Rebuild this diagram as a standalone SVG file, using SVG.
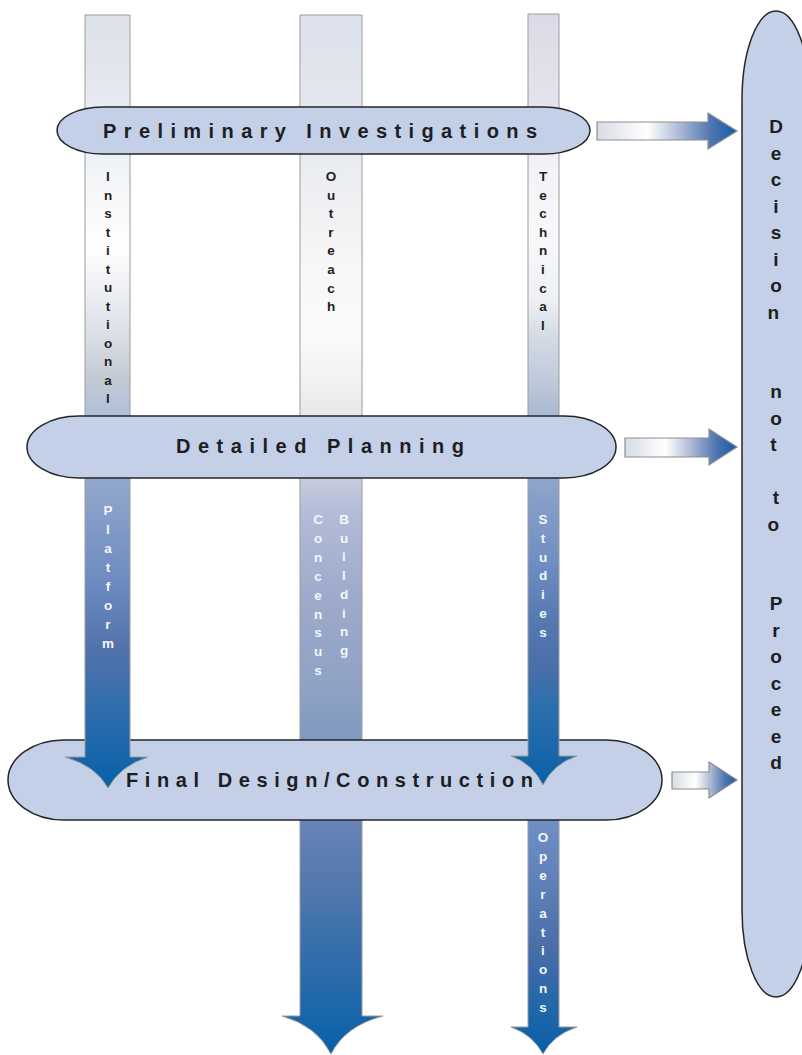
<svg xmlns="http://www.w3.org/2000/svg" width="802" height="1055" viewBox="0 0 802 1055">
<style>
.pill{fill:#c3d0e8;stroke:#262626;stroke-width:1.5}
.col{stroke:#9c9c9c;stroke-width:1}
.rarr{fill:url(#gR);stroke:#8e8e8e;stroke-width:1.2}
.big{font-family:"Liberation Sans",Arial,sans-serif;font-weight:bold;font-size:20px;fill:#1e1e22}
.dec{font-family:"Liberation Sans",Arial,sans-serif;font-weight:bold;font-size:19px;fill:#1e1e22;text-anchor:middle}
.lbl{font-family:"Liberation Sans",Arial,sans-serif;font-weight:bold;font-size:13.5px;text-anchor:middle}
.dk{fill:#1e1e22}
.wt{fill:#f4f6fb}
</style>
<defs>
<linearGradient id="g1" gradientUnits="userSpaceOnUse" x1="0" y1="15" x2="0" y2="788">
<stop offset="0" stop-color="#dde2e8"/>
<stop offset="0.06" stop-color="#e2e6ec"/>
<stop offset="0.18" stop-color="#edf2f8"/>
<stop offset="0.24" stop-color="#f8f8f8"/>
<stop offset="0.30" stop-color="#ffffff"/>
<stop offset="0.36" stop-color="#eceef2"/>
<stop offset="0.42" stop-color="#d8dde4"/>
<stop offset="0.47" stop-color="#c4cad2"/>
<stop offset="0.50" stop-color="#b6c4da"/>
<stop offset="0.60" stop-color="#93a7cc"/>
<stop offset="0.73" stop-color="#6e8cc0"/>
<stop offset="0.82" stop-color="#5272ac"/>
<stop offset="0.90" stop-color="#2f6ead"/>
<stop offset="1" stop-color="#0660a8"/>
</linearGradient>
<linearGradient id="g2" gradientUnits="userSpaceOnUse" x1="0" y1="15" x2="0" y2="1054">
<stop offset="0" stop-color="#dde1eb"/>
<stop offset="0.09" stop-color="#e4e7ef"/>
<stop offset="0.18" stop-color="#eef0f2"/>
<stop offset="0.25" stop-color="#f8f8f8"/>
<stop offset="0.31" stop-color="#fafafa"/>
<stop offset="0.35" stop-color="#f2f2f2"/>
<stop offset="0.39" stop-color="#e6e6e6"/>
<stop offset="0.445" stop-color="#c8cedf"/>
<stop offset="0.48" stop-color="#b2bcd8"/>
<stop offset="0.56" stop-color="#9eaacc"/>
<stop offset="0.65" stop-color="#8ea2c4"/>
<stop offset="0.70" stop-color="#7f98c0"/>
<stop offset="0.78" stop-color="#6682b6"/>
<stop offset="0.84" stop-color="#5278ae"/>
<stop offset="0.89" stop-color="#3a70aa"/>
<stop offset="0.95" stop-color="#1f68aa"/>
<stop offset="1" stop-color="#0660a8"/>
</linearGradient>
<linearGradient id="g3" gradientUnits="userSpaceOnUse" x1="0" y1="14" x2="0" y2="785">
<stop offset="0" stop-color="#dcdae6"/>
<stop offset="0.11" stop-color="#e4e2ec"/>
<stop offset="0.21" stop-color="#f4f4f8"/>
<stop offset="0.29" stop-color="#f8f8fa"/>
<stop offset="0.37" stop-color="#eef0f4"/>
<stop offset="0.42" stop-color="#d4dae4"/>
<stop offset="0.475" stop-color="#bfcadb"/>
<stop offset="0.52" stop-color="#a9bad2"/>
<stop offset="0.60" stop-color="#90a6cc"/>
<stop offset="0.71" stop-color="#6f8ec2"/>
<stop offset="0.79" stop-color="#5478b0"/>
<stop offset="0.85" stop-color="#4a6ea8"/>
<stop offset="0.89" stop-color="#3070ae"/>
<stop offset="0.95" stop-color="#1c68aa"/>
<stop offset="1" stop-color="#0660a8"/>
</linearGradient>
<linearGradient id="g4" gradientUnits="userSpaceOnUse" x1="0" y1="815" x2="0" y2="1054">
<stop offset="0" stop-color="#7090c6"/>
<stop offset="0.3" stop-color="#5e80b8"/>
<stop offset="0.55" stop-color="#4a6ea8"/>
<stop offset="0.75" stop-color="#2a68aa"/>
<stop offset="1" stop-color="#0660a8"/>
</linearGradient>
<linearGradient id="gR" x1="0" y1="0" x2="1" y2="0">
<stop offset="0" stop-color="#d6dce4"/>
<stop offset="0.36" stop-color="#ffffff"/>
<stop offset="0.58" stop-color="#b0bcd6"/>
<stop offset="0.82" stop-color="#4e74b0"/>
<stop offset="1" stop-color="#0c5ea8"/>
</linearGradient>
</defs>

<g id="decision">
<path class="pill" d="M742,100 A34,89 0 0 1 810,100 L810,910 A34,87 0 0 1 742,910 Z"/>
<text class="dec">
<tspan x="776" y="133">D</tspan><tspan x="776" y="159.5">e</tspan><tspan x="776" y="186">c</tspan><tspan x="776" y="212.5">i</tspan><tspan x="776" y="239">s</tspan><tspan x="776" y="265.5">i</tspan><tspan x="776" y="292">o</tspan><tspan x="776" y="318.5">n</tspan>
<tspan x="776" y="398">n</tspan><tspan x="776" y="424.5">o</tspan><tspan x="776" y="451">t</tspan>
<tspan x="776" y="504">t</tspan><tspan x="776" y="530.5">o</tspan>
<tspan x="776" y="610">P</tspan><tspan x="776" y="636.5">r</tspan><tspan x="776" y="663">o</tspan><tspan x="776" y="689.5">c</tspan><tspan x="776" y="716">e</tspan><tspan x="776" y="742.5">e</tspan><tspan x="776" y="769">d</tspan>
</text>
</g>

<g id="connectors">
<path id="outreach" class="col" fill="url(#g2)" d="M300,15 L362,15 L362,1016 L383,1016 Q345,1026 331,1054 Q317,1026 282,1016 L300,1016 Z"/>
<path id="operations" class="col" fill="url(#g4)" d="M528,815 L559,815 L559,1027 L577,1027 Q553,1035 543,1054 Q533,1035 511,1027 L528,1027 Z"/>
<path class="rarr" d="M597,122 L708,122 L708,113 L737,131 L708,149 L708,140 L597,140 Z"/>
<path class="rarr" d="M625,438 L709,438 L709,429 L737,447 L709,465 L709,457 L625,457 Z"/>
<path class="rarr" d="M672,772 L709,772 L709,762 L737,780 L709,798 L709,789 L672,789 Z"/>
</g>

<g id="final">
<rect class="pill" x="8" y="740" width="654" height="80" rx="56" ry="40"/>
</g>

<g id="connectors-front">
<path id="institutional" class="col" fill="url(#g1)" d="M85,15 L130,15 L130,757 L148,757 Q120,766 108,788 Q96,766 65,757 L85,757 Z"/>
<path id="technical" class="col" fill="url(#g3)" d="M528,14 L559,14 L559,756 L577,756 Q553,764 543,785 Q533,764 511,756 L528,756 Z"/>
</g>

<g id="preliminary">
<rect class="pill" x="57" y="107" width="533" height="47" rx="46" ry="23.5"/>
<text class="big" x="103" y="138" textLength="434" lengthAdjust="spacing">Preliminary Investigations</text>
</g>

<g id="detailed">
<rect class="pill" x="27" y="416" width="589" height="62" rx="52" ry="31"/>
<text class="big" x="176" y="453" textLength="288" lengthAdjust="spacing">Detailed Planning</text>
</g>

<g id="final-label">
<text class="big" x="126" y="787" textLength="407" lengthAdjust="spacing">Final Design/Construction</text>
</g>

<g id="labels">
<text class="lbl dk"><tspan x="108" y="181">I</tspan><tspan x="108" y="199.5">n</tspan><tspan x="108" y="218">s</tspan><tspan x="108" y="236.5">t</tspan><tspan x="108" y="255">i</tspan><tspan x="108" y="273.5">t</tspan><tspan x="108" y="292">u</tspan><tspan x="108" y="310.5">t</tspan><tspan x="108" y="329">i</tspan><tspan x="108" y="347.5">o</tspan><tspan x="108" y="366">n</tspan><tspan x="108" y="384.5">a</tspan><tspan x="108" y="403">l</tspan></text>
<text class="lbl dk"><tspan x="331" y="181">O</tspan><tspan x="331" y="199.6">u</tspan><tspan x="331" y="218.2">t</tspan><tspan x="331" y="236.8">r</tspan><tspan x="331" y="255.4">e</tspan><tspan x="331" y="274">a</tspan><tspan x="331" y="292.6">c</tspan><tspan x="331" y="311.2">h</tspan></text>
<text class="lbl dk"><tspan x="543" y="181">T</tspan><tspan x="543" y="199.6">e</tspan><tspan x="543" y="218.2">c</tspan><tspan x="543" y="236.8">h</tspan><tspan x="543" y="255.4">n</tspan><tspan x="543" y="274">i</tspan><tspan x="543" y="292.6">c</tspan><tspan x="543" y="311.2">a</tspan><tspan x="543" y="329.8">l</tspan></text>
<text class="lbl wt"><tspan x="108" y="515">P</tspan><tspan x="108" y="534">l</tspan><tspan x="108" y="553">a</tspan><tspan x="108" y="572">t</tspan><tspan x="108" y="591">f</tspan><tspan x="108" y="610">o</tspan><tspan x="108" y="629">r</tspan><tspan x="108" y="648">m</tspan></text>
<text class="lbl wt"><tspan x="318" y="524">C</tspan><tspan x="318" y="542.9">o</tspan><tspan x="318" y="561.8">n</tspan><tspan x="318" y="580.7">c</tspan><tspan x="318" y="599.6">e</tspan><tspan x="318" y="618.5">n</tspan><tspan x="318" y="637.4">s</tspan><tspan x="318" y="656.3">u</tspan><tspan x="318" y="675.2">s</tspan></text>
<text class="lbl wt"><tspan x="344" y="524">B</tspan><tspan x="344" y="542.7">u</tspan><tspan x="344" y="561.4">i</tspan><tspan x="344" y="580.1">l</tspan><tspan x="344" y="598.8">d</tspan><tspan x="344" y="617.5">i</tspan><tspan x="344" y="636.2">n</tspan><tspan x="344" y="654.9">g</tspan></text>
<text class="lbl wt"><tspan x="543" y="524">S</tspan><tspan x="543" y="542.8">t</tspan><tspan x="543" y="561.6">u</tspan><tspan x="543" y="580.4">d</tspan><tspan x="543" y="599.2">i</tspan><tspan x="543" y="618">e</tspan><tspan x="543" y="636.8">s</tspan></text>
<text class="lbl wt"><tspan x="543" y="842">O</tspan><tspan x="543" y="860.9">p</tspan><tspan x="543" y="879.8">e</tspan><tspan x="543" y="898.7">r</tspan><tspan x="543" y="917.6">a</tspan><tspan x="543" y="936.5">t</tspan><tspan x="543" y="955.4">i</tspan><tspan x="543" y="974.3">o</tspan><tspan x="543" y="993.2">n</tspan><tspan x="543" y="1012.1">s</tspan></text>
</g>
</svg>
